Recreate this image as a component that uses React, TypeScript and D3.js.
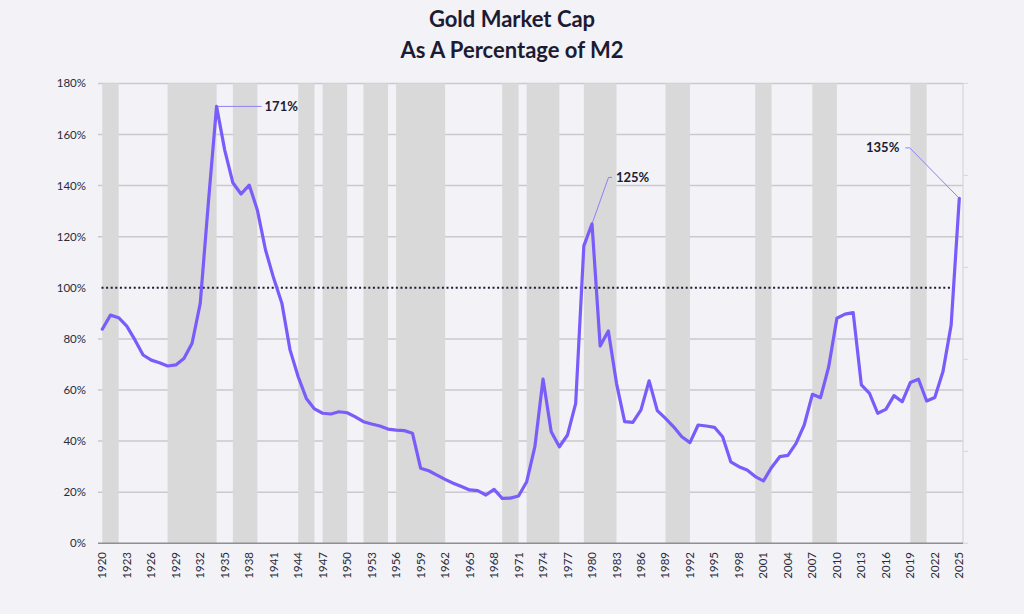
import React from "react";
import * as d3 from "d3";

const years: number[] = d3.range(1920, 2026);
const values: number[] = [
  83.8, 89.3, 88.3, 85.0, 79.6, 73.7, 71.7, 70.7, 69.4, 69.8,
  72.3, 78.3, 93.9, 133.5, 171.0, 153.9, 141.1, 136.7, 140.2, 130.4,
  114.8, 103.7, 94.0, 75.7, 65.2, 56.7, 52.6, 50.9, 50.6, 51.5,
  51.1, 49.5, 47.6, 46.7, 45.9, 44.7, 44.3, 44.1, 43.1, 29.4,
  28.4, 26.7, 25.0, 23.5, 22.2, 20.9, 20.6, 18.9, 21.1, 17.6,
  17.7, 18.5, 24.1, 37.8, 64.3, 43.7, 37.8, 42.4, 54.8, 116.4,
  125.0, 77.2, 83.1, 62.6, 47.6, 47.3, 52.2, 63.6, 51.9, 48.9,
  45.6, 41.7, 39.4, 46.3, 45.9, 45.4, 41.7, 31.9, 30.0, 28.7,
  26.1, 24.4, 29.7, 33.9, 34.4, 39.1, 46.3, 58.3, 57.0, 69.1,
  88.1, 89.7, 90.3, 62.0, 58.7, 50.9, 52.4, 57.8, 55.4, 62.9,
  64.2, 55.7, 57.1, 67.2, 85.4, 135.0,
];
const shadedStart: number[] = [1920, 1928, 1936, 1944, 1947, 1952, 1956, 1969, 1972, 1979, 1989, 2000, 2007, 2019];
const shadedEnd: number[] = [1922, 1934, 1939, 1946, 1950, 1955, 1962, 1971, 1976, 1983, 1992, 2002, 2010, 2021];
const yTicks: number[] = [0, 20, 40, 60, 80, 100, 120, 140, 160, 180];
const xTickYears: number[] = d3.range(1920, 2026, 3);
const callouts = [
  { year: 1934, label: "171%" },
  { year: 1980, label: "125%" },
  { year: 2025, label: "135%" },
];

const W = 1024;
const H = 614;
const LINE = "#7a5cfa";
const LEADER = "#8f80f4";
const TEXT = "#1c1b33";

export default function App() {
  const x = d3.scaleLinear().domain([1920, 2025]).range([102.3, 959.3]);
  const y = d3.scaleLinear().domain([0, 180]).range([543.3, 83.4]);
  const gridX0 = 98;
  const gridX1 = 963;
  const line = d3
    .line<number>()
    .x((_, i) => x(years[i]))
    .y((d) => y(d))
    .curve(d3.curveLinear);

  const pt = (yr: number) => {
    const i = years.indexOf(yr);
    return [x(yr), y(values[i])];
  };
  const [p1x, p1y] = pt(callouts[0].year);
  const [p2x, p2y] = pt(callouts[1].year);
  const [p3x, p3y] = pt(callouts[2].year);

  return (
    <svg
      width={W}
      height={H}
      style={{ position: "absolute", left: 0, top: 0, display: "block" }}
      fontFamily="Lato, 'Open Sans', sans-serif"
    >
      <rect x={0} y={0} width={W} height={H} fill="#f2f2f7" />
      <text x={512} y={27} textAnchor="middle" fontSize={22} fontWeight={700} fill={TEXT}>
        Gold Market Cap
      </text>
      <text x={512} y={58} textAnchor="middle" fontSize={22} fontWeight={700} fill={TEXT}>
        As A Percentage of M2
      </text>

      {/* grid lines */}
      {yTicks
        .filter((t) => t !== 0 && t !== 100)
        .map((t) => (
          <line key={"g" + t} x1={gridX0} x2={gridX1} y1={y(t)} y2={y(t)} stroke="#c9c9ce" strokeWidth={1.5} />
        ))}

      {/* shaded periods */}
      {shadedStart.map((s, i) => (
        <rect
          key={"s" + i}
          x={x(s)}
          y={y(180)}
          width={x(shadedEnd[i]) - x(s)}
          height={y(0) - y(180)}
          fill="#d9d9d9"
        />
      ))}

      {/* right axis */}
      <line x1={gridX1} x2={gridX1} y1={y(180)} y2={y(0)} stroke="#d6d6da" strokeWidth={1.2} />
      {d3.range(0, 6).map((k) => {
        const yy = y(0) - (k * (y(0) - y(180))) / 5;
        return <line key={"rt" + k} x1={gridX1} x2={gridX1 + 5} y1={yy} y2={yy} stroke="#d6d6da" strokeWidth={1} />;
      })}

      {/* 100% dotted line */}
      <line
        x1={101.5}
        x2={955}
        y1={y(100)}
        y2={y(100)}
        stroke={TEXT}
        strokeWidth={2}
        strokeDasharray="2,2.6"
      />

      {/* bottom axis */}
      <line x1={gridX0} x2={gridX1} y1={y(0)} y2={y(0)} stroke="#8e8e96" strokeWidth={1.5} />

      {/* y labels */}
      {yTicks.map((t) => (
        <text key={"yl" + t} x={86} y={y(t) + 4} textAnchor="end" fontSize={11.5} fill="#2a2a3a">
          {t}%
        </text>
      ))}

      {/* x labels */}
      {xTickYears.map((yr) => (
        <text
          key={"xl" + yr}
          transform={`translate(${x(yr) + 4},${552}) rotate(-90)`}
          textAnchor="end"
          fontSize={11.5}
          fill="#2a2a3a"
        >
          {yr}
        </text>
      ))}

      {/* leaders */}
      <polyline points={`${p1x},${p1y} ${p1x + 45},${p1y}`} fill="none" stroke={LEADER} strokeWidth={1} />
      <polyline
        points={`${p2x},${p2y} ${p2x + 16.5},${p2y - 46.5} ${p2x + 20},${p2y - 46.5}`}
        fill="none"
        stroke={LEADER}
        strokeWidth={1}
      />
      <polyline
        points={`${p3x},${p3y} ${p3x - 49.5},${p3y - 50.5} ${p3x - 54},${p3y - 50.5}`}
        fill="none"
        stroke={LEADER}
        strokeWidth={1}
      />

      {/* data line */}
      <path d={line(values) || ""} fill="none" stroke={LINE} strokeWidth={3.2} strokeLinejoin="round" strokeLinecap="round" />

      {/* callout labels */}
      <text x={p1x + 48} y={p1y + 4.5} fontSize={13} fontWeight={700} fill={TEXT}>
        {callouts[0].label}
      </text>
      <text x={p2x + 24} y={p2y - 42} fontSize={13} fontWeight={700} fill={TEXT}>
        {callouts[1].label}
      </text>
      <text x={p3x - 60} y={p3y - 46} textAnchor="end" fontSize={13} fontWeight={700} fill={TEXT}>
        {callouts[2].label}
      </text>
    </svg>
  );
}
